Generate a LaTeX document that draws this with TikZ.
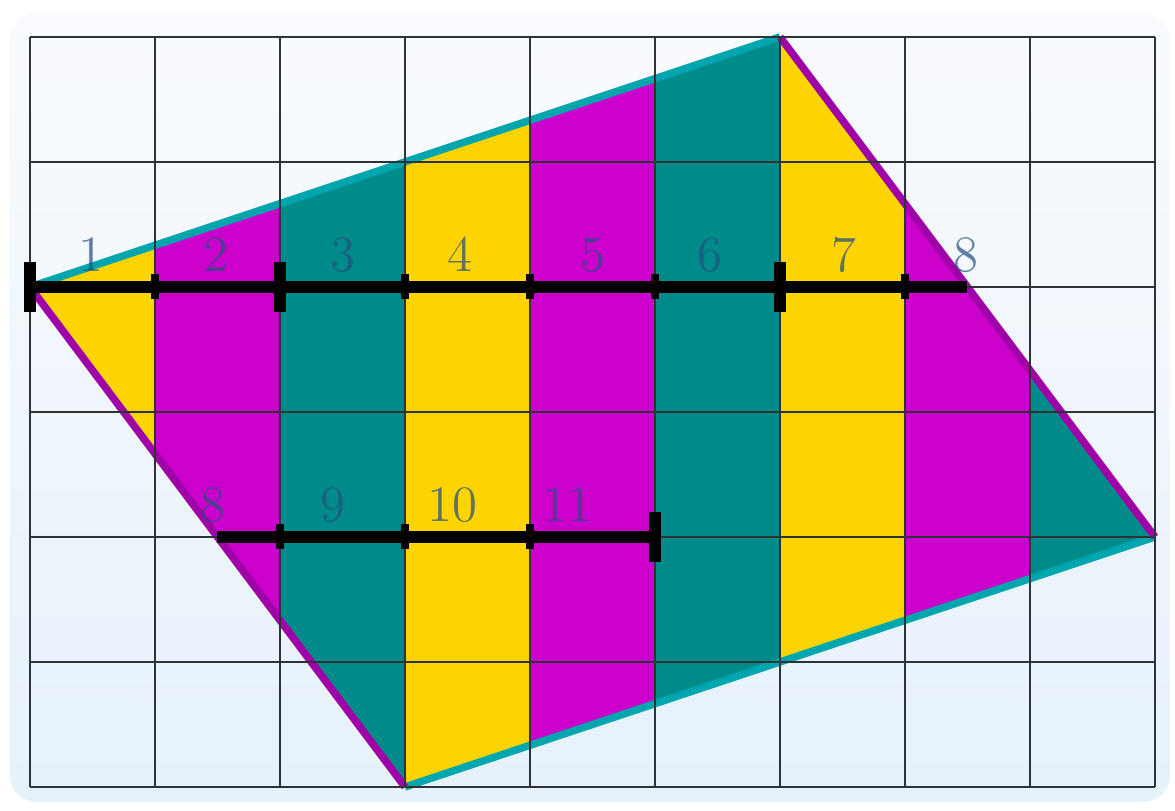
\documentclass[tikz,border=0pt]{standalone}
\usetikzlibrary{calc}
\definecolor{stripeY}{HTML}{FFD400}
\definecolor{stripeM}{HTML}{CC00CC}
\definecolor{stripeT}{HTML}{008B8B}
\definecolor{edgeC}{HTML}{00A6AE}
\definecolor{edgeP}{HTML}{A000A8}
\definecolor{gridC}{HTML}{2E3338}
\definecolor{labC}{HTML}{24507F}
\definecolor{bgTop}{HTML}{F9FBFE}
\definecolor{bgBot}{HTML}{E6F1FA}
\tikzset{
  gridline/.style={gridC, line width=0.55pt},
  edgecyan/.style={edgeC, line width=1.7pt},
  edgepurple/.style={edgeP, line width=1.7pt},
  measure/.style={black, line width=2.9pt},
  bigtick/.style={black, line width=2.7pt},
  smalltick/.style={black, line width=2pt},
  lab/.style={text=labC, text opacity=0.72, anchor=base, inner sep=0pt, font=\fontsize{11.6pt}{14pt}\selectfont},
}
\begin{document}
\begin{tikzpicture}[x=1cm,y=1cm]
\useasboundingbox (-0.24,-0.192) rectangle (9.16,6.296);
\fill[white] (-0.24,-0.192) rectangle (9.16,6.296);
\shade[top color=bgTop, bottom color=bgBot, rounded corners=6pt] (-0.16,-0.12) rectangle (9.12,6.19);
% vertices
\coordinate (L) at (0,4);
\coordinate (T) at (6,6);
\coordinate (R) at (9,2);
\coordinate (B) at (3,0);
% stripes
\begin{scope}
  \clip (L) -- (T) -- (R) -- (B) -- cycle;
  \foreach \i/\c in {0/stripeY,1/stripeM,2/stripeT,3/stripeY,4/stripeM,5/stripeT,6/stripeY,7/stripeM,8/stripeT}{
    \fill[\c] (\i,0) rectangle (\i+1,6);
  }
\end{scope}
% edges
\draw[edgecyan] (L) -- (T);
\draw[edgecyan] (B) -- (R);
\draw[edgepurple] (L) -- (B);
\draw[edgepurple] (T) -- (R);
% grid
\draw[gridline] (0,0) grid (9,6);
% top measure line
\coordinate (m0) at (0,4);
\coordinate (m1) at (7.5,4);
\draw[measure] (m0) -- (m1);
\foreach \x in {0,2,6}{ \draw[bigtick] (\x,3.8) -- (\x,4.2); }
\foreach \x in {1,3,4,5,7}{ \draw[smalltick] (\x,3.9) -- (\x,4.1); }
% bottom measure line
\coordinate (n0) at (1.5,2);
\coordinate (n1) at (5,2);
\draw[measure] (n0) -- (n1);
\foreach \x in {2,3,4}{ \draw[smalltick] (\x,1.9) -- (\x,2.1); }
\draw[bigtick] (5,1.8) -- (5,2.2);
% labels
\foreach \x/\t [count=\k] in {0.49/1,1.49/2,2.5/3,3.44/4,4.5/5,5.44/6,6.51/7,7.49/8}{
  \node[lab] (top\k) at (\x,4.12) {\t};
}
\foreach \x/\t [count=\k] in {1.46/8,2.42/9,3.38/10,4.3/11}{
  \node[lab] (bot\k) at (\x,2.12) {\t};
}
\end{tikzpicture}
\end{document}
